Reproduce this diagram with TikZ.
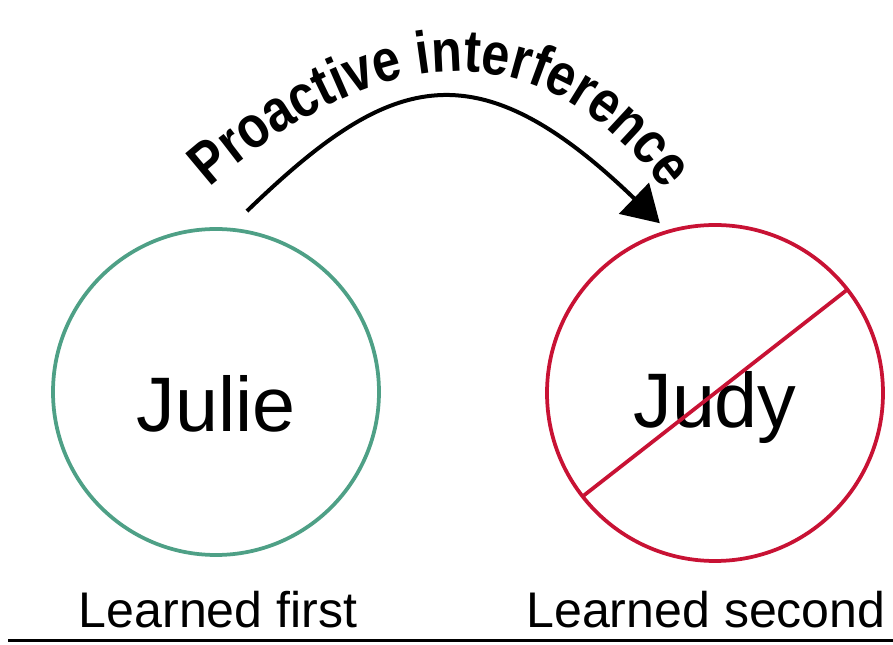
\documentclass[tikz,border=0pt]{standalone}
\usepackage{fontspec}
\setmainfont{Liberation Sans}
\newfontfamily\arcfont[FakeStretch=0.84]{Liberation Sans}
\usetikzlibrary{arrows.meta,decorations.text}
\definecolor{learngreen}{RGB}{78,160,134}
\definecolor{forgetred}{RGB}{200,18,52}

\begin{document}
\begin{tikzpicture}
[person/.style={shape=circle,inner sep=0pt,line width=0.075cm,text depth=0pt,font=\fontsize{44}{50}\selectfont},
caption/.style={anchor=base,font=\fontsize{28.5}{34}\selectfont},
%
cross/.style={draw=forgetred,line width=0.075cm,shorten >=0.07cm,shorten <=0.07cm},
piarrow/.style={-{Triangle[length=0.72cm,width=0.85cm]},line width=0.08cm},
pitext/.style={decorate,decoration={text along path,text align=center,
  text={|\arcfont\fontsize{34}{40}\selectfont\bfseries|Proactive interference}}}]

\useasboundingbox (0,0) rectangle (17.86,12.9);

\node (julie) [person,draw=learngreen,minimum size=6.52cm,text height=1.6cm] at (4.32,5.06) {Julie};
\node (judy) [person,draw=forgetred,minimum size=6.72cm,text height=1.4cm] at (14.3,5.04) {Judy};
\node (firstlabel) [caption] at (4.36,0.34) {Learned first};
\node (secondlabel) [caption] at (14.12,0.34) {Learned second};

\coordinate (pistart) at ([shift={(80.3:3.67)}]julie.center);
\coordinate (piend) at ([shift={(108:3.57)}]judy.center);
\coordinate (textstart) at (4.03,9.01);
\coordinate (textend) at (13.41,8.91);

\draw[cross] (judy.38) -- (judy.218);
\draw[piarrow] (pistart) .. controls +(44:3.9) and +(136:5.2) .. (piend);
\path[pitext] (textstart) .. controls +(42:4.2) and +(125:4.7) .. (textend);
\draw[line width=0.06cm] (0.16,0.08) -- (17.86,0.08);

\end{tikzpicture}
\end{document}
